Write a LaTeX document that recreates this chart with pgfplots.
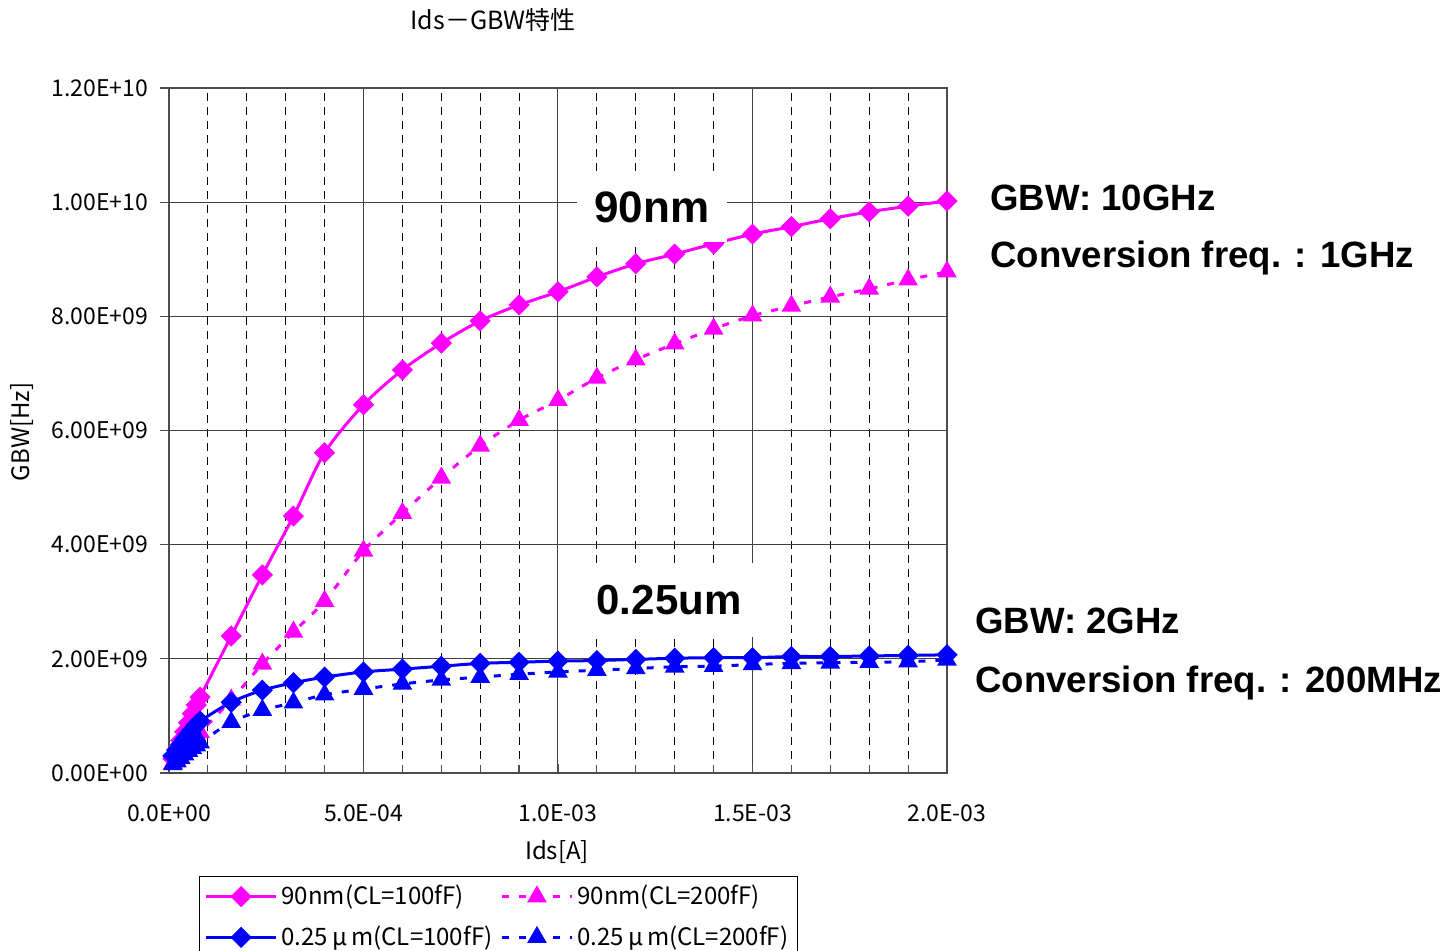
\documentclass[border=0pt]{standalone}
\usepackage{fontspec}
\setmainfont{Noto Sans CJK JP}
\newfontfamily\lsans{Liberation Sans}
\usepackage{pgfplots}
\pgfplotsset{compat=1.18}
\definecolor{mag}{RGB}{255,0,255}
\definecolor{blu}{RGB}{0,0,255}
\begin{document}
\begin{tikzpicture}
\path[use as bounding box] (-84.5pt,-89pt) rectangle (639pt,386.5pt);
\begin{axis}[
  at={(0pt,0pt)}, anchor=south west,
  scale only axis, width=389pt, height=342.5pt,
  xmin=0, xmax=2, ymin=0, ymax=12,
  xtick={0,0.5,1,1.5,2},
  xticklabels={0.0E+00,5.0E-04,1.0E-03,1.5E-03,2.0E-03},
  ytick={0,2,4,6,8,10,12},
  yticklabels={0.00E+00,2.00E+09,4.00E+09,6.00E+09,8.00E+09,1.00E+10,1.20E+10},
  minor x tick num=4,
  xmajorgrids, xminorgrids, ymajorgrids,
  major grid style={black!75, line width=0.5pt},
  minor grid style={black, dash pattern=on 4pt off 3pt, line width=0.4pt},
  axis line style={black!70, line width=1pt},
  xtick pos=bottom, ytick pos=left,
  xtick align=inside, ytick align=outside,
  major tick length=4.5pt, minor tick length=4pt,
  tick style={black!70, line width=0.6pt},
  tick label style={font=\fontsize{11.5}{12}\selectfont},
  xticklabel style={yshift=-12.5pt},
  yticklabel style={xshift=-2.5pt},
  legend columns=2,
  legend cell align=left,
  legend style={at={(axis description cs:0.0386,-0.150)}, anchor=north west,
    draw=black, line width=0.6pt, font=\fontsize{12}{13}\selectfont,
    inner sep=2.5pt, row sep=5pt,
    /tikz/every even column/.append style={column sep=2pt}},
  legend image code/.code={\draw[mark repeat=2,mark phase=2,#1] plot coordinates {(0pt,0pt)(17.5pt,0pt)(35pt,0pt)};},
]
\addplot[color=mag, line width=1.5pt, smooth, tension=0.5, mark=square*, mark size=3pt, mark options={rotate=45, solid}] coordinates {
(0.01,0.25)(0.02,0.41)(0.03,0.57)(0.04,0.72)(0.05,0.88)(0.06,1.04)(0.07,1.19)(0.08,1.33)
(0.16,2.40)(0.24,3.47)(0.32,4.50)(0.40,5.61)(0.50,6.45)(0.60,7.06)(0.70,7.53)(0.80,7.92)
(0.90,8.20)(1.00,8.43)(1.10,8.69)(1.20,8.92)(1.30,9.09)(1.40,9.27)(1.50,9.44)(1.60,9.57)
(1.70,9.71)(1.80,9.83)(1.90,9.93)(2.00,10.02)};
\addlegendentry{90nm(CL=100fF)}
\addplot[color=mag, line width=1.5pt, dash pattern=on 3.5pt off 5pt, smooth, tension=0.5, mark=triangle*, mark size=4.2pt, mark options={solid}] coordinates {
(0.01,0.17)(0.02,0.25)(0.03,0.33)(0.04,0.41)(0.05,0.49)(0.06,0.57)(0.07,0.64)(0.08,0.71)
(0.16,1.28)(0.24,1.91)(0.32,2.47)(0.40,3.01)(0.50,3.89)(0.60,4.55)(0.70,5.17)(0.80,5.73)
(0.90,6.18)(1.00,6.53)(1.10,6.92)(1.20,7.24)(1.30,7.52)(1.40,7.78)(1.50,8.01)(1.60,8.18)
(1.70,8.34)(1.80,8.48)(1.90,8.64)(2.00,8.78)};
\addlegendentry{90nm(CL=200fF)}
\addplot[color=blu, line width=1.5pt, smooth, tension=0.5, mark=square*, mark size=3pt, mark options={rotate=45, solid}] coordinates {
(0.01,0.30)(0.02,0.40)(0.03,0.50)(0.04,0.59)(0.05,0.68)(0.06,0.76)(0.07,0.84)(0.08,0.91)
(0.16,1.24)(0.24,1.45)(0.32,1.58)(0.40,1.68)(0.50,1.77)(0.60,1.82)(0.70,1.87)(0.80,1.92)
(0.90,1.94)(1.00,1.96)(1.10,1.97)(1.20,1.99)(1.30,2.01)(1.40,2.02)(1.50,2.02)(1.60,2.04)
(1.70,2.04)(1.80,2.05)(1.90,2.06)(2.00,2.07)};
\addlegendentry{0.25\,μ\,m(CL=100fF)}
\addplot[color=blu, line width=1.5pt, dash pattern=on 3.5pt off 5pt, smooth, tension=0.5, mark=triangle*, mark size=4.2pt, mark options={solid}] coordinates {
(0.01,0.15)(0.02,0.20)(0.03,0.26)(0.04,0.32)(0.05,0.38)(0.06,0.43)(0.07,0.48)(0.08,0.53)
(0.16,0.89)(0.24,1.10)(0.32,1.23)(0.40,1.37)(0.50,1.47)(0.60,1.56)(0.70,1.63)(0.80,1.68)
(0.90,1.73)(1.00,1.77)(1.10,1.80)(1.20,1.83)(1.30,1.86)(1.40,1.87)(1.50,1.90)(1.60,1.92)
(1.70,1.93)(1.80,1.94)(1.90,1.95)(2.00,1.98)};
\addlegendentry{0.25\,μ\,m(CL=200fF)}
\end{axis}
\node[fill=white, inner sep=0pt, minimum width=75pt, minimum height=35pt, font=\lsans\bfseries\fontsize{22}{24}\selectfont] at (241.5pt,283pt) {90nm};
\node[fill=white, inner sep=0pt, minimum width=91pt, minimum height=37pt, font=\lsans\bfseries\fontsize{21}{24}\selectfont] at (250pt,86.5pt) {0.25um};
\node[anchor=west, inner sep=0pt, font=\lsans\bfseries\fontsize{18.3}{20}\selectfont] at (410.5pt,287.5pt) {GBW: 10GHz};
\node[anchor=west, inner sep=0pt, font=\lsans\bfseries\fontsize{18.3}{20}\selectfont] at (410.5pt,257.5pt) {Conversion freq. : 1GHz};
\node[anchor=west, inner sep=0pt, font=\lsans\bfseries\fontsize{18.3}{20}\selectfont] at (403pt,76pt) {GBW: 2GHz};
\node[anchor=west, inner sep=0pt, font=\lsans\bfseries\fontsize{18.3}{20}\selectfont] at (403pt,45pt) {Conversion freq. : 200MHz};
\node[font=\fontsize{12.5}{14}\selectfont] at (162pt,376.5pt) {Ids－GBW特性};
\node[rotate=90, font=\fontsize{12}{13}\selectfont] at (-73.5pt,170.5pt) {GBW[Hz]};
\node[font=\fontsize{12}{13}\selectfont] at (194pt,-39.5pt) {Ids[A]};
\end{tikzpicture}
\end{document}
